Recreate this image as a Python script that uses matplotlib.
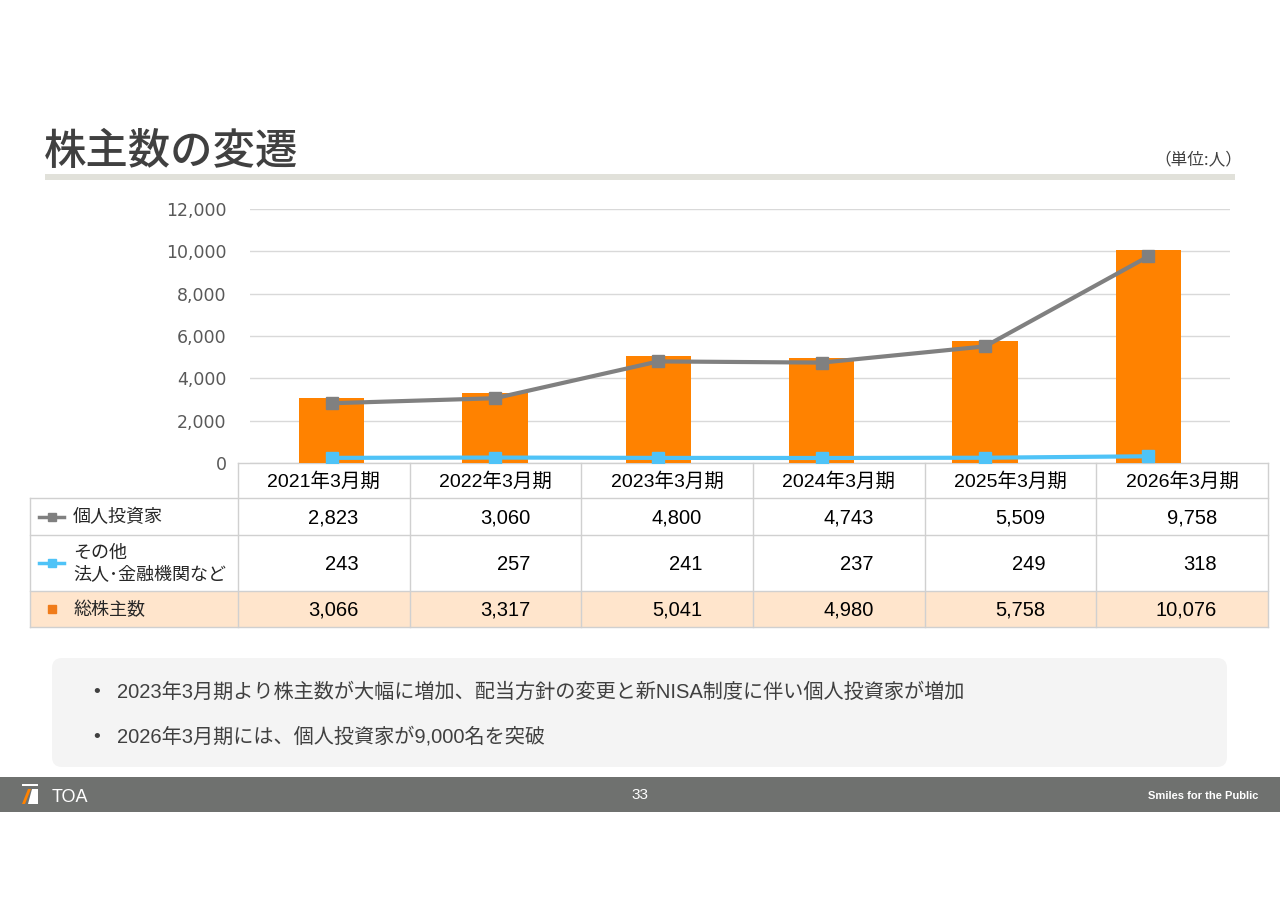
import numpy as np
import matplotlib
matplotlib.use('Agg')
import matplotlib.pyplot as plt
from matplotlib.patches import Rectangle, FancyBboxPatch, Polygon

plt.rcParams['font.family'] = ['Liberation Sans', 'Noto Sans CJK JP', 'DejaVu Sans']

# data
periods = ['2021年3月期', '2022年3月期', '2023年3月期', '2024年3月期', '2025年3月期', '2026年3月期']
individual = [2823, 3060, 4800, 4743, 5509, 9758]
other = [243, 257, 241, 237, 249, 318]
total = [3066, 3317, 5041, 4980, 5758, 10076]
row_labels = ['個人投資家', 'その他\n法人･金融機関など', '総株主数']
y_ticks = [0, 2000, 4000, 6000, 8000, 10000, 12000]
bullets = ['2023年3月期より株主数が大幅に増加、配当方針の変更と新NISA制度に伴い個人投資家が増加',
           '2026年3月期には、個人投資家が9,000名を突破']

orange = '#FF8200'
gray = '#808080'
blue = '#4FC3F7'

W, H = 1280, 905
fig = plt.figure(figsize=(W / 100, H / 100), dpi=100)

# pixel overlay for the slide decoration and the data table
bg = fig.add_axes([0, 0, 1, 1], zorder=0)
bg.set_xlim(0, W)
bg.set_ylim(H, 0)
bg.axis('off')

# title + underline
bg.text(44, 152, '株主数の変遷', fontsize=30.5, color='#404040', va='center', ha='left',
        family=['Noto Sans CJK JP'], fontweight='medium')
bg.add_patch(Rectangle((45, 174), 1190, 6, color='#E1E1DA', lw=0))
bg.text(1242, 160, '（単位:人）', fontsize=12, color='#404040', va='center', ha='right',
        family=['Noto Sans CJK JP'])

# table geometry
col_edges = np.linspace(238, 1268, len(periods) + 1)
row_edges = [463, 498, 535, 591, 627]
line_c = '#D0D0D0'

# highlighted total row
bg.add_patch(Rectangle((30, row_edges[3]), 1268 - 30, row_edges[4] - row_edges[3],
                       color='#FFE5CC', lw=0))
# horizontal lines
bg.plot([238, 1268], [row_edges[0], row_edges[0]], color=line_c, lw=1)
for r in row_edges[1:]:
    bg.plot([30, 1268], [r, r], color=line_c, lw=1)
# vertical lines
bg.plot([30, 30], [row_edges[1], row_edges[4]], color=line_c, lw=1)
for c in col_edges:
    bg.plot([c, c], [row_edges[0], row_edges[4]], color=line_c, lw=1)

# header
for i, p in enumerate(periods):
    cx = (col_edges[i] + col_edges[i + 1]) / 2
    bg.text(cx, (row_edges[0] + row_edges[1]) / 2 + 1, p, fontsize=14, ha='center', va='center',
            color='#000000')

series_rows = [individual, other, total]
for r, vals in enumerate(series_rows):
    cy = (row_edges[r + 1] + row_edges[r + 2]) / 2
    for i, v in enumerate(vals):
        bg.text(col_edges[i + 1] - 51, cy + 1, f'{v:,}', fontsize=14.5, ha='right', va='center',
                color='#000000')

# row labels with legend keys
ly = [(row_edges[1] + row_edges[2]) / 2, (row_edges[2] + row_edges[3]) / 2,
      (row_edges[3] + row_edges[4]) / 2]
bg.text(73, ly[0] + 1, row_labels[0], fontsize=13, ha='left', va='center', color='#262626')
bg.text(73, ly[1] + 1, row_labels[1], fontsize=13, ha='left', va='center', color='#262626',
        linespacing=1.35)
bg.text(73, ly[2] + 1, row_labels[2], fontsize=13, ha='left', va='center', color='#262626')
bg.plot([39, 64], [ly[0], ly[0]], color=gray, lw=2.5)
bg.plot([52], [ly[0]], marker='s', ms=6, color=gray)
bg.plot([39, 64], [ly[1], ly[1]], color=blue, lw=2.5)
bg.plot([52], [ly[1]], marker='s', ms=6, color=blue)
bg.plot([52], [ly[2]], marker='s', ms=6, color='#F07C1A')

# bullet box
bg.add_patch(FancyBboxPatch((52, 658), 1175, 109, boxstyle='round,pad=0,rounding_size=10',
                            facecolor='#F4F4F4', edgecolor='none'))
for k, b in enumerate(bullets):
    yy = 692 + k * 45
    bg.text(97, yy, '•', fontsize=14, ha='center', va='center', color='#404040')
    bg.text(117, yy, b, fontsize=14.5, ha='left', va='center', color='#404040')

# footer
bg.add_patch(Rectangle((0, 777), W, 35, color='#6F716F', lw=0))
bg.text(640, 795, '33', fontsize=11, ha='center', va='center', color='white')
bg.add_patch(Rectangle((22, 784), 16, 2, color='white', lw=0))
bg.add_patch(Polygon([[22, 804], [28, 789], [31, 789], [25, 804]], closed=True, color=orange, lw=0))
bg.add_patch(Polygon([[28, 804], [32, 789], [38, 789], [38, 804]], closed=True, color='white', lw=0))
bg.text(52, 797, 'TOA', fontsize=13, ha='left', va='center', color='white',
        family=['Liberation Sans Narrow', 'Liberation Sans'])
bg.text(1258, 796, 'Smiles for the Public', fontsize=8, ha='right', va='center', color='white',
        fontweight='bold', family=['Liberation Sans Narrow', 'Liberation Sans'])

# main chart
ax = fig.add_axes([250 / W, 1 - 463 / H, 980 / W, 254 / H], zorder=2)
ax.patch.set_alpha(0)
x = np.arange(len(periods))
ax.bar(x, total, width=0.4, color=orange, zorder=2)
ax.plot(x, individual, color=gray, lw=3, marker='s', ms=9, zorder=3)
ax.plot(x, other, color=blue, lw=3, marker='s', ms=9, zorder=3)
ax.set_xlim(-0.5, len(periods) - 0.5)
ax.set_ylim(0, 12000)
ax.set_yticks(y_ticks)
ax.set_yticklabels([f'{t:,}' for t in y_ticks], family='DejaVu Sans', fontsize=12.5,
                   color='#595959')
ax.set_xticks([])
ax.tick_params(axis='y', length=0, pad=17)
ax.grid(axis='y', color='#D9D9D9', lw=1, zorder=0)
ax.set_axisbelow(True)
for s in ax.spines.values():
    s.set_visible(False)

fig.savefig('out.png', dpi=100)
